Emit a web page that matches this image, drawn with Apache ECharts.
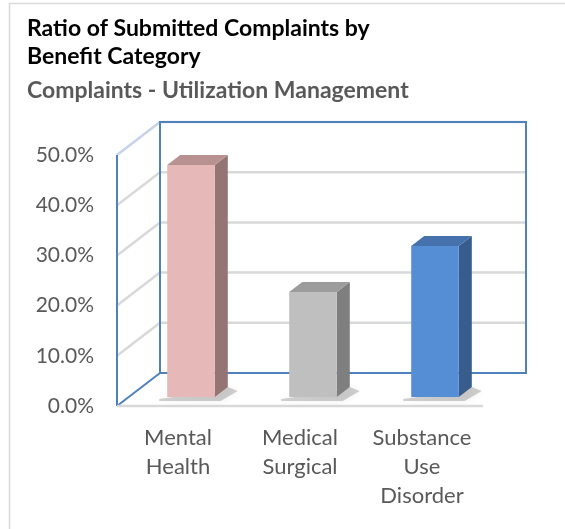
<!DOCTYPE html>
<html>
<head>
<meta charset="utf-8">
<script src="https://cdn.jsdelivr.net/npm/echarts@6/dist/echarts.min.js"></script>
<style>html,body{margin:0;padding:0;background:#fff;}#c{width:565px;height:529px;}</style>
</head>
<body>
<div id="c"></div>
<script>
// ---- data ----
const categories = ['Mental\nHealth', 'Medical\nSurgical', 'Substance\nUse\nDisorder'];
const ratios = [0.462, 0.209, 0.301];
const yTicks = [0, 0.1, 0.2, 0.3, 0.4, 0.5];
const titleText = 'Ratio of Submitted Complaints by\nBenefit Category';
const subtitleText = 'Complaints - Utilization Management';

// ---- styling ----
const frontColors = ['#E6B9B8', '#BFBFBF', '#558ED5'];
const sideColors  = ['#957573', '#7F7F7F', '#365D8C'];
const topColors   = ['#B89290', '#9C9C9C', '#4571AD'];
const FONT = 'Lato, "Open Sans", "Liberation Sans", sans-serif';
const WALL_DX = 43, WALL_DY = -33;   // full depth of the 3D box
const BAR_FX = 13, BAR_FY = -9;      // bar front-face depth
const BAR_DX = 13, BAR_DY = -10;     // bar thickness in depth

const chart = echarts.init(document.getElementById('c'), null, {renderer: 'canvas'});

function renderWalls(params, api) {
  const cs = params.coordSys;
  const xL = cs.x, xR = cs.x + cs.width;
  const y0 = api.coord([0, 0])[1];
  const children = [];
  const gray = '#D9D9D9', blue = '#4F81BD';
  yTicks.forEach(function (t) {
    const yf = api.coord([0, t])[1];
    if (t > 0) {
      children.push({type: 'line', shape: {x1: xL + WALL_DX, y1: yf + WALL_DY, x2: xR + WALL_DX, y2: yf + WALL_DY},
        style: {stroke: gray, lineWidth: 2.5}});
      children.push({type: 'line', shape: {x1: xL, y1: yf, x2: xL + WALL_DX, y2: yf + WALL_DY},
        style: {stroke: t === 0.5 ? '#C7D3E6' : gray, lineWidth: 2.5}});
    }
  });
  const yTop = api.coord([0, 0.5])[1];
  children.push({type: 'rect', shape: {x: xL + WALL_DX, y: yTop + WALL_DY, width: xR - xL, height: y0 - yTop},
    style: {fill: null, stroke: blue, lineWidth: 2}});
  children.push({type: 'line', shape: {x1: xL, y1: yTop, x2: xL, y2: y0}, style: {stroke: blue, lineWidth: 2}});
  children.push({type: 'line', shape: {x1: xL, y1: y0, x2: xL + WALL_DX, y2: y0 + WALL_DY}, style: {stroke: blue, lineWidth: 2}});
  children.push({type: 'line', shape: {x1: xL, y1: y0, x2: xR, y2: y0}, style: {stroke: gray, lineWidth: 2.5}});
  return {type: 'group', children: children};
}

function renderBar(params, api) {
  const i = api.value(0), v = api.value(1);
  const top = api.coord([i, v]);
  const base = api.coord([i, 0]);
  const w = api.size([1, 0])[0] * 0.39;
  const x0 = top[0] - w / 2 + BAR_FX, x1 = x0 + w;
  const yT = top[1] + BAR_FY, yB = base[1] + BAR_FY;
  return {
    type: 'group',
    children: [
      {type: 'polygon', shape: {points: [[x0 - 8, yB + 2], [x1, yB - 6], [x1 + BAR_DX, yB + BAR_DY], [x1 + BAR_DX + 10, yB + BAR_DY + 4], [x1 + 6, yB + 4], [x0 - 8, yB + 4]]},
        style: {fill: 'rgba(0,0,0,0.18)', shadowBlur: 8, shadowColor: 'rgba(0,0,0,0.35)'}, z2: 0},
      {type: 'polygon', shape: {points: [[x1, yT], [x1 + BAR_DX, yT + BAR_DY], [x1 + BAR_DX, yB + BAR_DY], [x1, yB]]},
        style: {fill: sideColors[i]}, z2: 1},
      {type: 'polygon', shape: {points: [[x0, yT], [x0 + BAR_DX, yT + BAR_DY], [x1 + BAR_DX, yT + BAR_DY], [x1, yT]]},
        style: {fill: topColors[i]}, z2: 1},
      {type: 'rect', shape: {x: x0, y: yT, width: w, height: yB - yT},
        style: {fill: frontColors[i]}, z2: 2}
    ]
  };
}

const option = {
  backgroundColor: '#fff',
  animation: false,
  title: [
    {text: titleText, left: 27, top: 15, padding: 0,
     textStyle: {fontFamily: FONT, fontSize: 23, fontWeight: 'bold', color: '#000', lineHeight: 28}},
    {text: subtitleText, left: 27, top: 77, padding: 0,
     textStyle: {fontFamily: FONT, fontSize: 23, fontWeight: 'bold', color: '#595959', lineHeight: 28}}
  ],
  graphic: [
    {type: 'rect', shape: {x: 9.5, y: 3.5, width: 700, height: 700}, style: {fill: null, stroke: '#D9D9D9', lineWidth: 1.5}, silent: true}
  ],
  grid: {left: 117, right: 82, top: 155, bottom: 123, containLabel: false},
  xAxis: {
    type: 'category', data: categories,
    axisLine: {show: false}, axisTick: {show: false}, splitLine: {show: false},
    axisLabel: {fontFamily: FONT, fontSize: 22, color: '#595959', lineHeight: 29, margin: 17, interval: 0}
  },
  yAxis: {
    type: 'value', min: 0, max: 0.5, interval: 0.1,
    axisLine: {show: false}, axisTick: {show: false}, splitLine: {show: false},
    axisLabel: {fontFamily: FONT, fontSize: 21, color: '#595959', margin: 23,
      formatter: function (v) { return (v * 100).toFixed(1) + '%'; }}
  },
  series: [
    {type: 'custom', name: 'walls', renderItem: renderWalls, data: [[0, 0]], z: 1, silent: true, clip: false},
    {type: 'custom', name: 'Ratio', renderItem: renderBar, z: 2, clip: false,
     data: ratios.map(function (r, i) { return [i, r]; })}
  ]
};
chart.setOption(option);
</script>
</body>
</html>
